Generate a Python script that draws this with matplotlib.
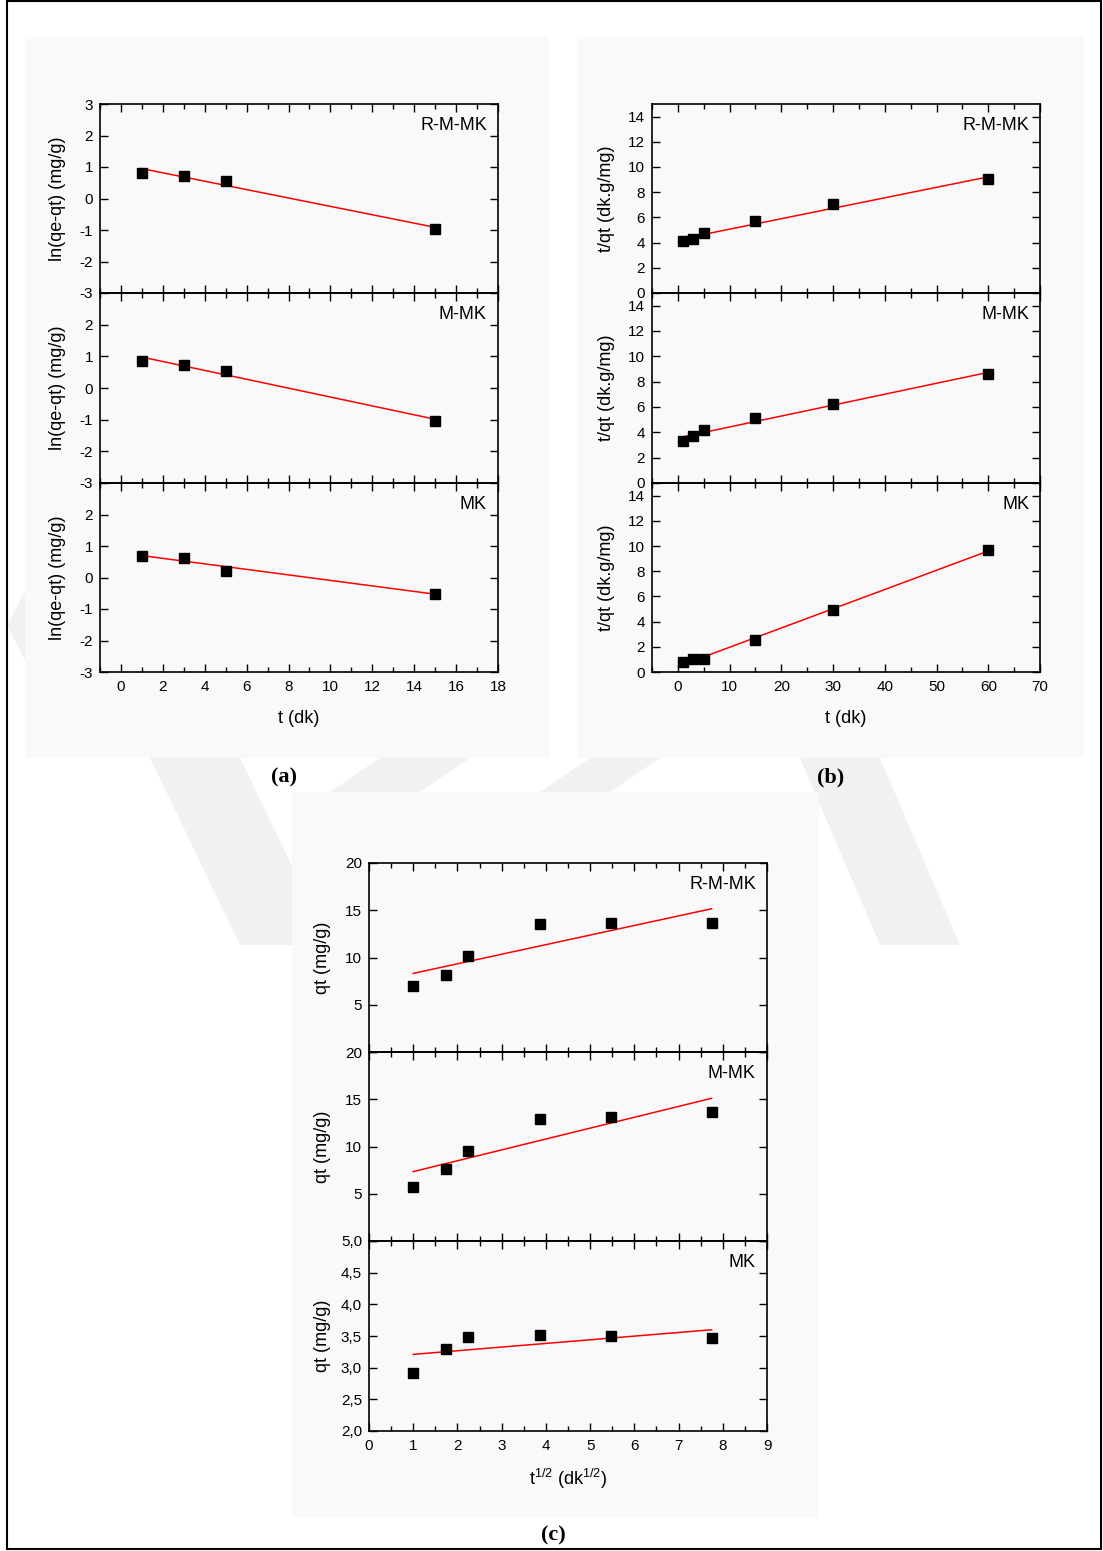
import numpy as np
import matplotlib
matplotlib.use("Agg")
import matplotlib.pyplot as plt
from matplotlib.patches import Rectangle, Polygon
from matplotlib.ticker import MultipleLocator

plt.rcParams["font.family"] = ["Liberation Sans", "DejaVu Sans"]
plt.rcParams["mathtext.fontset"] = "custom"
plt.rcParams["mathtext.rm"] = "Liberation Sans"
plt.rcParams["mathtext.it"] = "Liberation Sans"

# --- data -----------------------------------------------------------------
samples = ["R-M-MK", "M-MK", "MK"]

# (a) pseudo first order: ln(qe-qt) vs t
t_a = [1, 3, 5, 15]
ln_rmmk = [0.82, 0.72, 0.55, -0.96]
ln_mmk = [0.85, 0.73, 0.55, -1.03]
ln_mk = [0.69, 0.63, 0.22, -0.51]

# (b) pseudo second order: t/qt vs t
t_b = [1, 3, 5, 15, 30, 60]
tq_rmmk = [4.10, 4.27, 4.78, 5.68, 7.03, 9.02]
tq_mmk = [3.34, 3.71, 4.16, 5.14, 6.23, 8.62]
tq_mk = [0.79, 1.03, 1.06, 2.54, 4.93, 9.70]

# (c) intraparticle diffusion: qt vs t^1/2
t_c = [1, 3, 5, 15, 30, 60]
qt_rmmk = [7.0, 8.2, 10.15, 13.55, 13.7, 13.6]
qt_mmk = [5.7, 7.64, 9.51, 12.92, 13.13, 13.63]
qt_mk = [2.91, 3.29, 3.49, 3.52, 3.505, 3.47]

W, H = 1103, 1551
fig = plt.figure(figsize=(W / 100, H / 100), dpi=100)

# page background: faint watermark, grey panel boxes, border
bg = fig.add_axes([0, 0, 1, 1], zorder=-5)
bg.set_xlim(0, W)
bg.set_ylim(H, 0)
bg.axis("off")
wm = "#f1f1f1"
marks = [
    [(150, 758), (240, 758), (330, 945), (240, 945)],
    [(330, 792), (380, 758), (470, 758), (420, 792)],
    [(540, 792), (590, 758), (660, 758), (610, 792)],
    [(800, 758), (880, 758), (960, 945), (880, 945)],
    [(45, 555), (7, 625), (45, 700), (70, 700), (32, 625), (70, 555)],
]
for pts in marks:
    bg.add_patch(Polygon(pts, closed=True, facecolor=wm, edgecolor="none"))
box = "#f9f9f9"
for l, t, r, b in [(25, 37, 549, 758), (577, 37, 1084, 758), (292, 792, 819, 1518)]:
    bg.add_patch(Rectangle((l, t), r - l, b - t, facecolor=box, edgecolor="none"))
bg.add_patch(Rectangle((7, 1), 1094, 1548, facecolor="none", edgecolor="black", lw=1.5))

for x, y, s in [(284, 777, "(a)"), (831, 777, "(b)"), (553, 1535, "(c)")]:
    bg.text(x, y, s, family="Liberation Serif", weight="bold", fontsize=16,
            ha="center", va="center")


def px_rect(l, t, r, b):
    return [l / W, 1 - b / H, (r - l) / W, (b - t) / H]


def comma(v):
    return f"{v:.1f}".replace(".", ",")


def panel(rect, x, y, name, xlim, ylim, xmaj, yticklabels, ylabel, ylab_x):
    ax = fig.add_axes(px_rect(*rect))
    ax.set_facecolor("none")
    slope, icept = np.polyfit(x, y, 1)
    xf = np.array([x[0], x[-1]])
    ax.plot(xf, slope * xf + icept, color="red", lw=1.1, zorder=2)
    ax.plot(x, y, "s", color="black", ms=6.5, zorder=3)
    ax.set_xlim(*xlim)
    ax.set_ylim(*ylim)
    ax.xaxis.set_major_locator(MultipleLocator(xmaj))
    ax.xaxis.set_minor_locator(MultipleLocator(xmaj / 2))
    ax.set_yticks([v for v, _ in yticklabels])
    ax.set_yticklabels([s for _, s in yticklabels])
    ax.tick_params(which="both", direction="in", top=True, right=True,
                   labelsize=11, width=1.0)
    ax.tick_params(which="major", length=6)
    ax.tick_params(which="minor", length=3.5)
    ax.tick_params(axis="x", pad=6)
    ax.tick_params(axis="y", pad=5)
    for sp in ax.spines.values():
        sp.set_linewidth(1.2)
    ax.set_ylabel(ylabel, fontsize=13)
    ax.yaxis.set_label_coords(ylab_x, 0.5)
    ax.text(0.972, 0.885, name, transform=ax.transAxes, ha="right", va="center",
            fontsize=13)
    return ax


# (a)
rows_a = [(104, 293), (293, 483), (483, 672)]
ydat_a = [ln_rmmk, ln_mmk, ln_mk]
for i, ((t, b), yv, name) in enumerate(zip(rows_a, ydat_a, samples)):
    yt = list(range(-3, 4)) if i == 0 else list(range(-3, 3))
    ax = panel((100, t, 498, b), t_a, yv, name, (-1, 18), (-3, 3), 2,
               [(v, str(v)) for v in yt], "ln(qe-qt) (mg/g)", -0.085)
    if i < 2:
        ax.tick_params(axis="x", labelbottom=False)
    else:
        ax.set_xlabel("t (dk)", fontsize=13)
        ax.xaxis.set_label_coords(0.5, -0.2)

# (b)
ydat_b = [tq_rmmk, tq_mmk, tq_mk]
for i, ((t, b), yv, name) in enumerate(zip(rows_a, ydat_b, samples)):
    ax = panel((652, t, 1040, b), t_b, yv, name, (-5, 70), (0, 15), 10,
               [(v, str(v)) for v in range(0, 15, 2)], "t/qt (dk.g/mg)", -0.095)
    if i < 2:
        ax.tick_params(axis="x", labelbottom=False)
    else:
        ax.set_xlabel("t (dk)", fontsize=13)
        ax.xaxis.set_label_coords(0.5, -0.2)

# (c)
rows_c = [(863, 1052), (1052, 1241), (1241, 1431)]
ydat_c = [qt_rmmk, qt_mmk, qt_mk]
sqrt_t = np.sqrt(t_c)
for i, ((t, b), yv, name) in enumerate(zip(rows_c, ydat_c, samples)):
    if i < 2:
        ylim = (0, 20)
        yl = [(0, ""), (5, "5"), (10, "10"), (15, "15"), (20, "20")]
    else:
        ylim = (2, 5)
        yl = [(v, comma(v)) for v in np.arange(2.0, 5.01, 0.5)]
    ax = panel((369, t, 767, b), sqrt_t, yv, name, (0, 9), ylim, 1,
               yl, "qt (mg/g)", -0.095)
    if i < 2:
        ax.tick_params(axis="x", labelbottom=False)
    else:
        ax.set_xlabel(r"t$^{1/2}$ (dk$^{1/2}$)", fontsize=13)
        ax.xaxis.set_label_coords(0.5, -0.19)

fig.savefig("out.png", dpi=100)
